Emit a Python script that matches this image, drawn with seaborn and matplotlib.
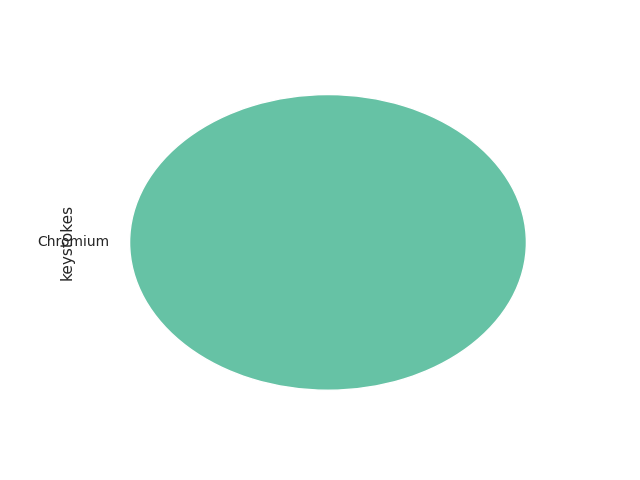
import seaborn as sns
import matplotlib.pyplot as plt

browsers = ["Chromium"]
keystrokes = [1]

sns.set_theme(style="white", rc={"font.size": 10, "axes.labelsize": 11})
colors = sns.color_palette("Set2", len(browsers))

fig, ax = plt.subplots(figsize=(6.4, 4.8), dpi=100)
ax.pie(keystrokes, labels=browsers, colors=colors, textprops={"fontsize": 10})
ax.set_aspect("auto")
ax.set_ylabel("keystokes", fontsize=11)

plt.savefig("out.png")
